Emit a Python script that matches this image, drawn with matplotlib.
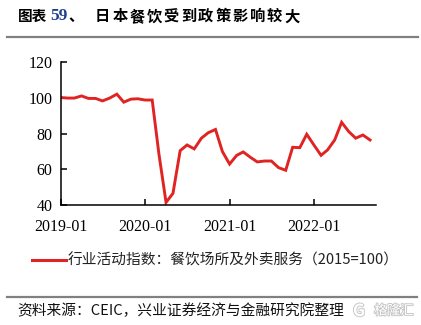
import numpy as np
import pandas as pd
import matplotlib
matplotlib.use("Agg")
import matplotlib.pyplot as plt
import matplotlib.dates as mdates
import matplotlib.patheffects as pe

plt.rcParams['font.family'] = ['Noto Sans CJK SC', 'DejaVu Sans']

# 行业活动指数：餐饮场所及外卖服务（2015=100），2019-01 ~ 2022-09 月度
months = pd.date_range("2019-01-01", periods=45, freq="MS")
index_vals = [100.3, 100.0, 100.0, 101.2, 99.8, 99.8, 98.4, 100.0, 102.2, 97.7,
              99.4, 99.6, 98.9, 98.9, 68.8, 41.5, 46.6, 70.5, 73.7, 71.5,
              77.5, 80.6, 82.4, 70.0, 63.0, 67.9, 69.8, 66.8, 64.2, 64.7,
              64.7, 61.0, 59.5, 72.4, 72.2, 79.7, 73.7, 67.9, 70.9, 76.5,
              86.4, 81.2, 77.5, 79.3, 76.5]
tick_dates = pd.to_datetime(["2019-01-01", "2020-01-01", "2021-01-01", "2022-01-01"])
tick_labels = ["2019-01", "2020-01", "2021-01", "2022-01"]
y_ticks = [40, 60, 80, 100, 120]

title_main = "日本餐饮受到政策影响较大"
legend_text = "行业活动指数：餐饮场所及外卖服务（2015=100）"
source_text = "资料来源：CEIC，兴业证券经济与金融研究院整理"

W = 421.0
fig = plt.figure(figsize=(4.21, 3.25), dpi=100)
ax = fig.add_axes([0.1442, 0.369, 0.749, 0.439])

ax.plot(months, index_vals, color="#E02424", lw=2.1, solid_joinstyle="miter")

ax.set_ylim(40, 120)
ax.set_yticks(y_ticks)
ax.set_xlim(pd.Timestamp("2019-01-01"), pd.Timestamp("2022-09-27"))
ax.set_xticks(tick_dates)
ax.set_xticklabels(tick_labels)

for s in ["top", "right"]:
    ax.spines[s].set_visible(False)
for s in ["left", "bottom"]:
    ax.spines[s].set_linewidth(1.1)
ax.tick_params(direction="in", length=4, width=1.1, pad=10, labelsize=11.5)
ax.tick_params(axis="y", pad=6)
for lab in ax.get_xticklabels() + ax.get_yticklabels():
    lab.set_family("Liberation Serif")

# 标题（字距较宽，逐字排）
ty = 0.95
fig.text(18 / W, ty, "图表", fontsize=10.5, fontweight="bold", va="center", ha="left")
fig.text(50 / W, ty, "59", fontsize=12.5, fontweight="bold", color="#1F3E8C",
         family="Liberation Serif", va="center", ha="left")
fig.text(68 / W, ty, "、", fontsize=11, fontweight="bold", va="center", ha="left")
for i, ch in enumerate(title_main):
    fig.text((95 + i * 17.2) / W, ty, ch, fontsize=11, fontweight="bold",
             va="center", ha="left")
fig.add_artist(plt.Line2D([0.017, 0.993], [0.886, 0.886], color="#808080", lw=1.6))

# 图例
fig.add_artist(plt.Line2D([0.076, 0.157], [0.2, 0.2], color="#E02424", lw=2.2))
fig.text(0.160, 0.2, legend_text, fontsize=10.6, va="center", ha="left", color="#222222")

# 数据来源
fig.add_artist(plt.Line2D([0.017, 0.99], [0.086, 0.086], color="#808080", lw=1.6))
fig.text(0.04, 0.043, source_text, fontsize=10.6, va="center", ha="left", color="#111111")
fig.text(353 / W, 0.043, "G", fontsize=12, fontweight="bold", va="center", ha="left",
         color="white", path_effects=[pe.withStroke(linewidth=1.3, foreground="#c4c4c4")])
fig.text(374 / W, 0.043, "格隆汇", fontsize=9.5, va="center", ha="left", color="white",
         path_effects=[pe.withStroke(linewidth=1.3, foreground="#c4c4c4")])

fig.savefig("out.png", dpi=100)
